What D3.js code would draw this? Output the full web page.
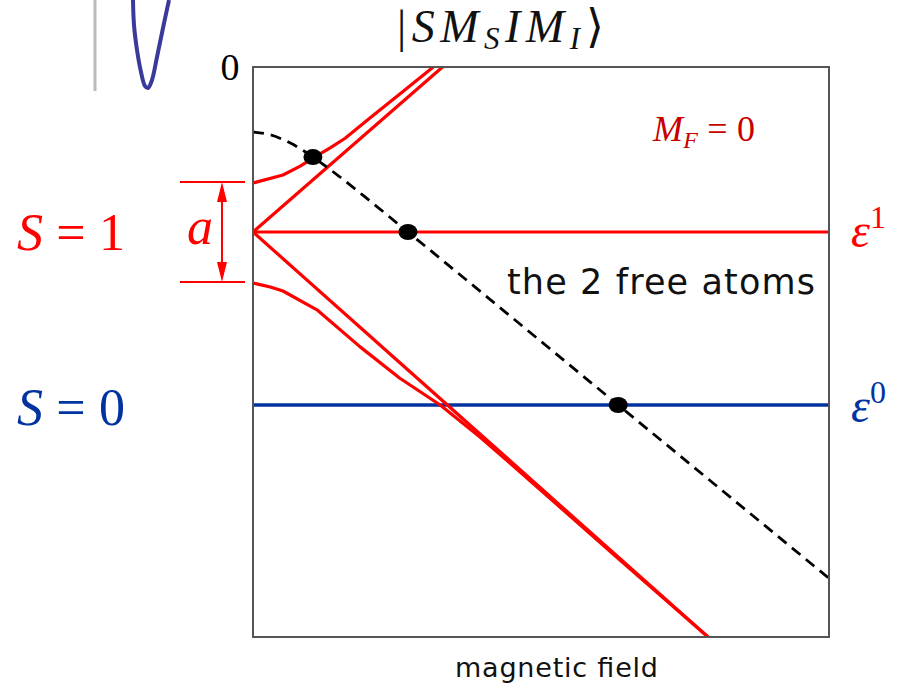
<!DOCTYPE html>
<html><head><meta charset="utf-8">
<script src="https://cdn.jsdelivr.net/npm/d3@7/dist/d3.min.js"></script>
<style>body{margin:0;background:#fff}svg{display:block}</style>
</head><body>
<svg id="c" width="900" height="688"></svg>
<script>
// ---- data (x: magnetic field 0..10, y: energy 0..-10) ----
const levelS1 = -2.895;          // epsilon^1
const levelS0 = -5.93;           // epsilon^0
const halfA = 0.877;             // a/2
const upperLine = [[0, -2.895], [3.29, 0]];
const lowerLine = [[0, -2.895], [7.90, -10]];
const upperCurve = [[0,-2.035],[0.52,-1.895],[0.82,-1.74],[1.04,-1.60],[1.34,-1.42],[1.60,-1.25],[2.03,-0.895],[2.55,-0.474],[3.13,0]];
const lowerCurve = [[0,-3.79],[0.30,-3.86],[0.52,-3.93],[1.11,-4.26],[1.86,-4.91],[2.55,-5.46],[3.25,-5.93],[3.94,-6.49],[4.80,-7.25],[6.37,-8.65],[7.90,-10]];
const freeAtoms = [[0,-1.14],[0.30,-1.19],[0.64,-1.33],[1.04,-1.58],[1.51,-1.93],[2.03,-2.35],[2.69,-2.895],[6.34,-5.93],[10,-8.97]];
const crossings = [[1.04,-1.58],[2.69,-2.895],[6.34,-5.93]];
const wellCurve = [[133,0],[134,25],[137,50],[141,72],[145,86],[148,88],[152,80],[157,57],[163,28],[169,0]];

const svg = d3.select("#c");
const x = d3.scaleLinear().domain([0, 10]).range([253, 829]);
const y = d3.scaleLinear().domain([0, -10]).range([67, 637]);
const line = d3.line().x(d => x(d[0])).y(d => y(d[1]));
const RED = "#ff0000", BLUE = "#0033a0", DRED = "#c80000";

// potential well fragment top-left
svg.append("line").attr("x1",95).attr("x2",95).attr("y1",0).attr("y2",91)
  .attr("stroke","#bbbbbb").attr("stroke-width",3);
svg.append("path").attr("d", d3.line().curve(d3.curveCatmullRom)(wellCurve))
  .attr("fill","none").attr("stroke","#3a3a9a").attr("stroke-width",4);

svg.append("clipPath").attr("id","pc").append("rect")
  .attr("x",x(0)).attr("y",y(0)).attr("width",x(10)-x(0)).attr("height",y(-10)-y(0));
const g = svg.append("g").attr("clip-path","url(#pc)");

// levels
g.append("path").attr("d", line([[0,levelS1],[10,levelS1]])).attr("stroke",RED).attr("stroke-width",3.2).attr("fill","none");
g.append("path").attr("d", line([[0,levelS0],[10,levelS0]])).attr("stroke",BLUE).attr("stroke-width",3.6).attr("fill","none");
[upperLine, lowerLine, upperCurve, lowerCurve].forEach(d => g.append("path").attr("d", line(d))
  .attr("stroke",RED).attr("stroke-width",3.2).attr("fill","none").attr("stroke-linejoin","round"));
g.append("path").attr("d", d3.line().x(d=>x(d[0])).y(d=>y(d[1])).curve(d3.curveMonotoneX)(freeAtoms))
  .attr("stroke","#000").attr("stroke-width",2.8).attr("stroke-dasharray","11,7").attr("fill","none");
g.selectAll("ellipse").data(crossings).join("ellipse")
  .attr("cx", d => x(d[0])).attr("cy", d => y(d[1])).attr("rx",9.5).attr("ry",8).attr("fill","#000");

// frame
svg.append("rect").attr("x",x(0)).attr("y",y(0)).attr("width",x(10)-x(0)).attr("height",y(-10)-y(0))
  .attr("fill","none").attr("stroke","#555").attr("stroke-width",2);

// bracket a
[levelS1 + halfA, levelS1 - halfA].forEach(v => svg.append("line").attr("x1",180).attr("x2",245)
  .attr("y1",y(v)).attr("y2",y(v)).attr("stroke",RED).attr("stroke-width",2));
svg.append("line").attr("x1",222).attr("x2",222).attr("y1",y(levelS1+halfA)+15).attr("y2",y(levelS1-halfA)-15)
  .attr("stroke",RED).attr("stroke-width",2);
const ta = y(levelS1+halfA), tb = y(levelS1-halfA);
svg.append("path").attr("d",`M222,${ta}L217,${ta+20}L227,${ta+20}Z M222,${tb}L217,${tb-20}L227,${tb-20}Z`).attr("fill",RED);

const serif = "'Liberation Serif','Times New Roman',serif";
const sans = "'DejaVu Sans',Verdana,sans-serif";

svg.append("text").attr("x",200).attr("y",244).attr("text-anchor","middle").attr("font-family",serif)
  .attr("font-style","italic").attr("font-size",52).attr("fill",RED).text("a");

function sLabel(yy, val, col){
  const t = svg.append("text").attr("x",17).attr("y",yy).attr("font-family",serif).attr("font-size",52)
    .attr("fill",col).attr("textLength",108);
  t.append("tspan").attr("font-style","italic").text("S");
  t.append("tspan").text(" = " + val);
}
sLabel(250, "1", RED);
sLabel(425, "0", BLUE);

function eps(yy, sup, col){
  const t = svg.append("text").attr("x",851).attr("y",yy).attr("font-family",serif).attr("font-size",48).attr("fill",col);
  t.append("tspan").attr("font-style","italic").text("\u03b5");
  t.append("tspan").attr("dy",-19).attr("font-size",32).text(sup);
}
eps(y(levelS1)+15, "1", RED);
eps(y(levelS0)+17, "0", BLUE);

svg.append("text").attr("x",230).attr("y",80).attr("text-anchor","middle").attr("font-family",serif)
  .attr("font-size",38).text("0");

// ket label
const k = svg.append("text").attr("x",397).attr("y",42).attr("font-family",serif).attr("font-size",46)
  .attr("fill","#111").attr("letter-spacing",5.5);
k.append("tspan").text("|");
k.append("tspan").attr("font-style","italic").text("SM");
k.append("tspan").attr("font-style","italic").attr("font-size",31).attr("dy",7).text("S");
k.append("tspan").attr("font-style","italic").attr("dy",-7).text("IM");
k.append("tspan").attr("font-style","italic").attr("font-size",31).attr("dy",7).text("I");
k.append("tspan").attr("dy",-7).text("\u27e9");

// M_F = 0
const m = svg.append("text").attr("x",653).attr("y",141).attr("font-family",serif).attr("font-size",36)
  .attr("fill",DRED).attr("textLength",102);
m.append("tspan").attr("font-style","italic").text("M");
m.append("tspan").attr("font-style","italic").attr("font-size",24).attr("dy",7).text("F");
m.append("tspan").attr("dy",-7).text(" = 0");

svg.append("text").attr("x",507).attr("y",294).attr("font-family",sans).attr("font-size",35).attr("fill","#111")
  .attr("textLength",308).text("the 2 free atoms");
svg.append("text").attr("x",455).attr("y",677).attr("font-family",sans).attr("font-size",27).attr("fill","#111")
  .attr("textLength",203).text("magnetic field");
</script>
</body></html>
